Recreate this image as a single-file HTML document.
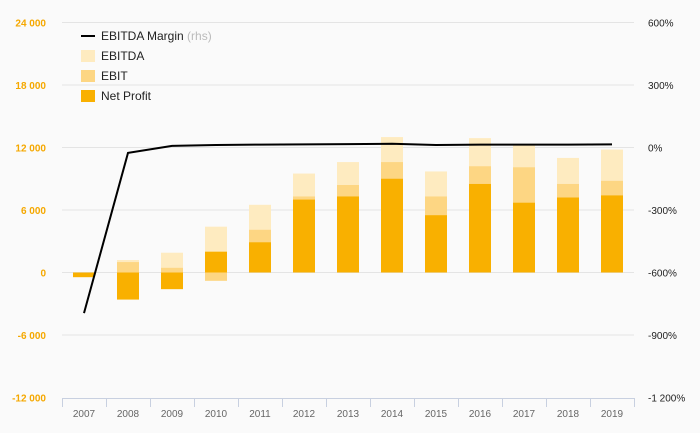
<!DOCTYPE html>
<html><head><meta charset="utf-8"><style>
body{margin:0;background:#fafafa;font-family:"Liberation Sans",sans-serif}
svg{display:block}
</style></head><body>
<svg id="c" width="700" height="433"></svg>
<script>
const years=["2007","2008","2009","2010","2011","2012","2013","2014","2015","2016","2017","2018","2019"];
const ebitda=[-300,1200,1900,4400,6500,9500,10600,13000,9700,12900,12200,11000,11800];
const ebit=[-350,1000,450,-800,4100,7300,8400,10600,7300,10200,10100,8500,8800];
const netProfit=[-450,-2600,-1600,2000,2900,7000,7300,9000,5500,8500,6700,7200,7400];
const margin=[-795,-26,8,12,14,15,16,18,12,14,14,14,15];
const leftTicks=[-12000,-6000,0,6000,12000,18000,24000];
const rightTicks=[-1200,-900,-600,-300,0,300,600];
const NS="http://www.w3.org/2000/svg";
const svg=document.getElementById('c');
const x0=62,x1=634,y0=272.5,pxPer=125/12000;
const y=v=>y0-v*pxPer;
const yr=v=>147.5-v*62.5/300;
const step=(x1-x0)/years.length;
const xc=i=>x0+step*(i+0.5);
function el(t,a,txt){const e=document.createElementNS(NS,t);for(const k in a)e.setAttribute(k,a[k]);if(txt!==undefined)e.textContent=txt;svg.appendChild(e);return e;}
function fmt(v){const s=Math.abs(v).toString().replace(/\B(?=(\d{3})+(?!\d))/g,' ');return (v<0?'-':'')+s;}
leftTicks.forEach(v=>{
 if(v>-12000){const g=el('line',{x1:x0,x2:x1,y1:y(v),y2:y(v),stroke:'#e4e4e4','stroke-width':1});
 
 }
 const t=el('text',{x:46,y:y(v)+4,'text-anchor':'end','font-size':10,'font-weight':'bold',fill:'#f5a800'},fmt(v));
 
 
});
rightTicks.forEach(v=>{
 const t=el('text',{x:648,y:yr(v)+4,'font-size':10,fill:'#222'},fmt(v)+'%');
 
 
});
const ax=el('line',{x1:x0,x2:x1,y1:398.5,y2:398.5,stroke:'#c8d0e0'});


years.forEach((yv,i)=>{
 const l=el('line',{x1:x0+step*i+0.5,x2:x0+step*i+0.5,y1:398,y2:407,stroke:'#c8d0e0'});
 
 
 const t=el('text',{x:xc(i),y:417,'text-anchor':'middle','font-size':10,fill:'#666'},yv);
 
 
});
const le=el('line',{x1:x1+0.5,x2:x1+0.5,y1:398,y2:407,stroke:'#c8d0e0'});


function bars(arr,color,name){arr.forEach((v,i)=>{
 const r=el('rect',{x:xc(i)-11,y:Math.min(y(v),y0),width:22,height:Math.abs(y(v)-y0),fill:color});
 
 
});}
bars(ebitda,'#feebc0','ebitda');
bars(ebit,'#fdd683','ebit');
bars(netProfit,'#f9b000','net-profit');
const pl=el('polyline',{points:margin.map((v,i)=>xc(i)+','+yr(v)).join(' '),fill:'none',stroke:'#000','stroke-width':2});


const leg=[['line','#000','EBITDA Margin',' (rhs)'],['rect','#feebc0','EBITDA'],['rect','#fdd683','EBIT'],['rect','#f9b000','Net Profit']];
leg.forEach((d,i)=>{
 const yy=36+i*20;
 let m;
 if(d[0]==='line')m=el('line',{x1:81,x2:95,y1:yy,y2:yy,stroke:'#000','stroke-width':2});
 else m=el('rect',{x:81,y:yy-6,width:14,height:12,fill:d[1]});
 
 
 const t=el('text',{x:101,y:yy+4,'font-size':12,fill:'#222'},d[2]);
 
 
 if(d[3]){const s=document.createElementNS(NS,'tspan');s.setAttribute('fill','#bbb');s.textContent=d[3];t.appendChild(s);}
});
</script>
</body></html>
